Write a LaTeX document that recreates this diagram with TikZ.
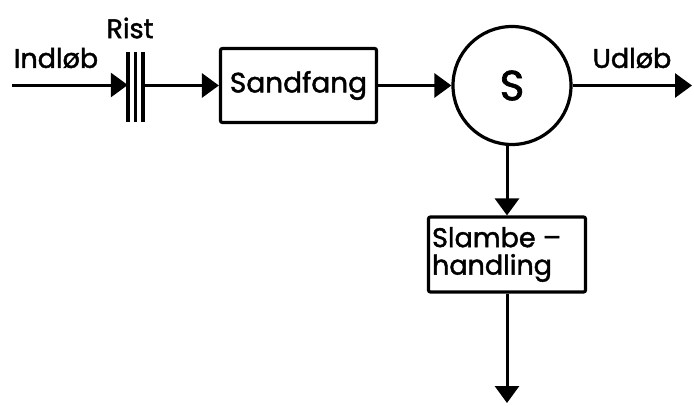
\documentclass[tikz,border=0pt]{standalone}
\usepackage{fontspec}
\setmainfont{Poppins}[FakeBold=1.6]
\usetikzlibrary{arrows.meta}
\begin{document}
\begin{tikzpicture}[x=1pt,y=-1pt,
  line/.style={line width=3pt},
  flow/.style={line, -{Triangle[length=17pt,width=24pt]}},
  block/.style={draw, line width=3.2pt, rounded corners=2pt, inner sep=0pt},
  lbl/.style={font=\fontsize{27}{28}\selectfont, inner sep=0pt}
]
\useasboundingbox (0,0) rectangle (694,405);
\coordinate (in) at (12,85);
\node[inner sep=0pt, minimum width=15pt, minimum height=70pt] (rist) at (135.5,87) {};
\node[block, minimum width=156pt, minimum height=74pt] (sand) at (298.5,85.5) {};
\node[lbl, font=\fontsize{28}{28}\selectfont] at (sand) {Sandfang};
\node[draw, circle, line width=3.2pt, minimum size=118pt, inner sep=0pt,
      font=\fontsize{42}{42}\selectfont] (S) at (512,85.5) {S};
\coordinate (out) at (692,85.5);
\node[block, minimum width=157pt, minimum height=75pt] (slam) at (507,254.5) {};
\node[lbl, align=left, anchor=west, font=\fontsize{27}{27.5}\selectfont] (slamtxt) at ([xshift=5pt]slam.west) {Slambe –\\handling};
\coordinate (down) at (507,403);
% labels
\node[lbl] (indlob) at (56,58) {Indløb};
\node[lbl] (ristlbl) at (130,28) {Rist};
\node[lbl] (udlob) at (632,58) {Udløb};
% rist bars
\draw[line width=3.5pt] (rist.north west) -- (rist.south west);
\draw[line width=3.5pt] (rist.north) -- (rist.south);
\draw[line width=3.5pt] (rist.north east) -- (rist.south east);
% flows
\draw[flow] (in) -- (rist.west |- in);
\draw[flow] (rist.east |- sand.west) -- (sand.west);
\draw[flow] (sand.east) -- (S.west);
\draw[flow] (S.east) -- (out);
\draw[flow] (S.south -| slam.north) -- (slam.north);
\draw[flow] (slam.south) -- (down);
\end{tikzpicture}
\end{document}
